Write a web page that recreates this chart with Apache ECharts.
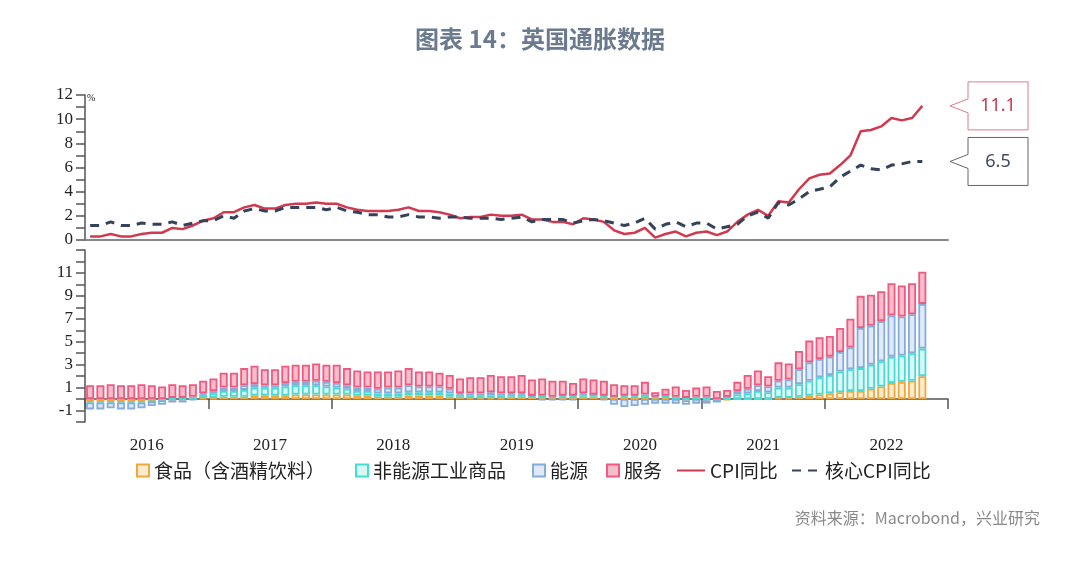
<!DOCTYPE html>
<html>
<head>
<meta charset="utf-8" />
<title>图表 14：英国通胀数据</title>
<script src="https://cdn.jsdelivr.net/npm/echarts@6/dist/echarts.min.js"></script>
<style>
  * { margin: 0; padding: 0; }
  html, body, #container { width: 100%; height: 100%; background: #fff; }
</style>
</head>
<body>
<div id="container"></div>
<script>
  // 2016-01 ~ 2022-10, 月度，%
  const years = ['2016', '2017', '2018', '2019', '2020', '2021', '2022'];
  const cpi = [
    0.3, 0.3, 0.5, 0.3, 0.3, 0.5, 0.6, 0.6, 1.0, 0.9, 1.2, 1.6,
    1.8, 2.3, 2.3, 2.7, 2.9, 2.6, 2.6, 2.9, 3.0, 3.0, 3.1, 3.0,
    3.0, 2.7, 2.5, 2.4, 2.4, 2.4, 2.5, 2.7, 2.4, 2.4, 2.3, 2.1,
    1.8, 1.9, 1.9, 2.1, 2.0, 2.0, 2.1, 1.7, 1.7, 1.5, 1.5, 1.3,
    1.8, 1.7, 1.5, 0.8, 0.5, 0.6, 1.0, 0.2, 0.5, 0.7, 0.3, 0.6,
    0.7, 0.4, 0.7, 1.5, 2.1, 2.5, 2.0, 3.2, 3.1, 4.2, 5.1, 5.4,
    5.5, 6.2, 7.0, 9.0, 9.1, 9.4, 10.1, 9.9, 10.1, 11.1
  ];
  const coreCpi = [
    1.2, 1.2, 1.5, 1.2, 1.2, 1.4, 1.3, 1.3, 1.5, 1.2, 1.4, 1.6,
    1.6, 2.0, 1.8, 2.4, 2.6, 2.4, 2.4, 2.7, 2.7, 2.7, 2.7, 2.5,
    2.7, 2.4, 2.3, 2.1, 2.1, 1.9, 1.9, 2.1, 1.9, 1.9, 1.8, 1.9,
    1.9, 1.8, 1.8, 1.8, 1.7, 1.8, 1.9, 1.5, 1.7, 1.7, 1.7, 1.4,
    1.6, 1.7, 1.6, 1.4, 1.2, 1.4, 1.8, 0.9, 1.3, 1.5, 1.1, 1.4,
    1.4, 0.9, 1.1, 1.3, 2.0, 2.3, 1.8, 3.1, 2.9, 3.4, 4.0, 4.2,
    4.4, 5.2, 5.7, 6.2, 5.9, 5.8, 6.2, 6.3, 6.5, 6.5
  ];
  // 拉动（百分点）
  const food = [
    -0.2, -0.2, -0.2, -0.2, -0.2, -0.2, -0.2, -0.1, -0.1, -0.1, 0.0, 0.1,
    0.1, 0.2, 0.2, 0.2, 0.3, 0.3, 0.3, 0.3, 0.4, 0.4, 0.4, 0.4,
    0.4, 0.4, 0.3, 0.3, 0.2, 0.2, 0.2, 0.3, 0.3, 0.3, 0.3, 0.2,
    0.2, 0.1, 0.1, 0.1, 0.1, 0.2, 0.2, 0.2, 0.1, 0.1, 0.2, 0.2,
    0.2, 0.2, 0.2, 0.2, 0.2, 0.2, 0.1, 0.1, 0.1, 0.0, -0.1, 0.0,
    -0.1, -0.1, -0.1, 0.0, 0.0, 0.0, 0.0, 0.1, 0.1, 0.2, 0.3, 0.4,
    0.5, 0.6, 0.7, 0.7, 0.9, 1.1, 1.4, 1.5, 1.6, 2.0
  ];
  const neig = [
    -0.1, -0.1, -0.1, -0.1, -0.1, -0.1, 0.0, 0.0, 0.1, 0.1, 0.2, 0.3,
    0.4, 0.5, 0.5, 0.6, 0.7, 0.7, 0.7, 0.8, 0.8, 0.8, 0.8, 0.7,
    0.6, 0.5, 0.4, 0.4, 0.3, 0.3, 0.3, 0.3, 0.3, 0.3, 0.3, 0.3,
    0.2, 0.2, 0.2, 0.2, 0.2, 0.2, 0.2, 0.1, 0.2, 0.1, 0.1, 0.1,
    0.2, 0.2, 0.1, 0.0, 0.1, 0.1, 0.3, 0.1, 0.2, 0.2, 0.1, 0.2,
    0.2, 0.0, 0.2, 0.4, 0.5, 0.7, 0.6, 0.9, 0.9, 1.1, 1.3, 1.5,
    1.6, 1.8, 1.9, 2.0, 2.1, 2.2, 2.3, 2.3, 2.4, 2.4
  ];
  const energy = [
    -0.6, -0.6, -0.5, -0.6, -0.6, -0.5, -0.4, -0.4, -0.2, -0.2, -0.1, 0.1,
    0.2, 0.3, 0.3, 0.4, 0.3, 0.2, 0.2, 0.3, 0.3, 0.3, 0.4, 0.4,
    0.4, 0.3, 0.3, 0.3, 0.4, 0.5, 0.5, 0.6, 0.5, 0.5, 0.5, 0.4,
    0.1, 0.2, 0.2, 0.3, 0.2, 0.1, 0.1, 0.0, -0.1, -0.1, -0.1, -0.1,
    0.1, 0.0, -0.1, -0.5, -0.7, -0.6, -0.5, -0.4, -0.4, -0.4, -0.4, -0.4,
    -0.3, -0.2, 0.0, 0.3, 0.4, 0.5, 0.5, 0.6, 0.7, 1.3, 1.6, 1.6,
    1.6, 1.7, 1.9, 3.5, 3.4, 3.5, 3.6, 3.4, 3.4, 3.9
  ];
  const services = [
    1.2, 1.2, 1.3, 1.2, 1.2, 1.3, 1.2, 1.1, 1.2, 1.1, 1.1, 1.1,
    1.1, 1.3, 1.3, 1.5, 1.6, 1.4, 1.4, 1.5, 1.5, 1.5, 1.5, 1.5,
    1.6, 1.5, 1.5, 1.4, 1.5, 1.4, 1.5, 1.5, 1.3, 1.3, 1.2, 1.2,
    1.3, 1.4, 1.4, 1.5, 1.5, 1.5, 1.6, 1.4, 1.5, 1.4, 1.3, 1.1,
    1.3, 1.3, 1.3, 1.1, 0.9, 0.9, 1.1, 0.4, 0.6, 0.9, 0.7, 0.8,
    0.9, 0.7, 0.6, 0.8, 1.2, 1.3, 0.9, 1.6, 1.4, 1.6, 1.9, 1.9,
    1.8, 2.1, 2.5, 2.8, 2.7, 2.6, 2.8, 2.7, 2.7, 2.8
  ];

  const months = [];
  years.forEach((y) => {
    for (let m = 1; m <= 12; m++) months.push(y + '-' + (m < 10 ? '0' + m : m));
  });

  const serif = 'Liberation Serif';
  const cjk = 'Noto Sans CJK SC';
  const axisColor = '#555';

  const chart = echarts.init(document.getElementById('container'));

  const bar = (name, data, border, fill) => ({
    name: name,
    type: 'bar',
    xAxisIndex: 1,
    yAxisIndex: 1,
    stack: 'contrib',
    barCategoryGap: '22%',
    data: data,
    itemStyle: { color: fill, borderColor: border, borderWidth: 1.8 },
  });

  // 图例逐项摆放，跟原图位置对齐
  const legendItem = (name, left, isLine) => {
    const item = {
      data: [name],
      left: left,
      top: 456,
      itemWidth: isLine ? 28 : 12,
      itemHeight: 12,
      itemGap: 5,
      textStyle: { fontFamily: cjk, fontSize: 19, color: '#222' },
    };
    if (isLine) item.itemStyle = { opacity: 0 };
    else item.icon = 'rect';
    return item;
  };

  const yAxisBase = {
    type: 'value',
    interval: 1,
    splitLine: { show: false },
    axisLine: { show: true, lineStyle: { color: axisColor, width: 1.5 } },
    axisTick: { show: true, length: 9, lineStyle: { color: axisColor, width: 1.5 } },
    axisLabel: { fontFamily: serif, fontSize: 17, color: '#222', margin: 12 },
  };

  chart.setOption({
    animation: false,
    title: [
      {
        text: '图表 14：英国通胀数据',
        left: 'center',
        top: 22,
        textStyle: { fontFamily: cjk, fontSize: 24, fontWeight: 'bold', color: '#6b7a8f' },
      },
      {
        text: '资料来源：Macrobond，兴业研究',
        right: 35,
        top: 505,
        textStyle: { fontFamily: cjk, fontSize: 16, fontWeight: 'normal', color: '#8a8a8a' },
      },
    ],
    legend: [
      legendItem('食品（含酒精饮料）', 131, false),
      legendItem('非能源工业商品', 350, false),
      legendItem('能源', 527, false),
      legendItem('服务', 601, false),
      legendItem('CPI同比', 671, true),
      legendItem('核心CPI同比', 786, true),
    ],
    grid: [
      { left: 85, right: 132, top: 95, height: 145 },
      { left: 85, right: 132, top: 250, height: 172 },
    ],
    xAxis: [
      {
        type: 'category',
        gridIndex: 0,
        data: months,
        boundaryGap: true,
        axisLine: { show: true, lineStyle: { color: '#888', width: 2 } },
        axisTick: { show: false },
        axisLabel: { show: false },
      },
      {
        type: 'category',
        gridIndex: 1,
        data: months,
        boundaryGap: true,
        axisLine: { show: true, lineStyle: { color: axisColor, width: 1.5 } },
        axisTick: { show: true, interval: 11, length: 10, lineStyle: { color: axisColor, width: 1.5 } },
        axisLabel: {
          interval: (i) => i % 12 === 6,
          formatter: (v) => v.slice(0, 4),
          fontFamily: serif,
          fontSize: 17,
          color: '#222',
          margin: 15,
          padding: [0, 10, 0, 0],
        },
      },
    ],
    yAxis: [
      Object.assign({}, yAxisBase, {
        gridIndex: 0,
        min: 0,
        max: 12,
        name: '%',
        nameGap: -8,
        nameTextStyle: { fontFamily: serif, fontSize: 10, color: '#222', align: 'left', padding: [0, 0, 0, 2] },
        axisLabel: Object.assign({}, yAxisBase.axisLabel, {
          formatter: (v) => (v % 2 === 0 ? v : ''),
        }),
      }),
      Object.assign({}, yAxisBase, {
        gridIndex: 1,
        min: -2,
        max: 13,
        axisLabel: Object.assign({}, yAxisBase.axisLabel, {
          formatter: (v) => (Math.abs(v % 2) === 1 && v <= 11 ? v : ''),
        }),
      }),
    ],
    series: [
      bar('食品（含酒精饮料）', food, '#f0a83c', '#fcebcc'),
      bar('非能源工业商品', neig, '#45dcd3', '#d8f8f6'),
      bar('能源', energy, '#86acdc', '#dfe9f7'),
      bar('服务', services, '#ee5a80', '#f8bccb'),
      {
        name: 'CPI同比',
        type: 'line',
        xAxisIndex: 0,
        yAxisIndex: 0,
        data: cpi,
        symbol: 'none',
        lineStyle: { color: '#d1394f', width: 2.5 },
        itemStyle: { color: '#d1394f' },
      },
      {
        name: '核心CPI同比',
        type: 'line',
        xAxisIndex: 0,
        yAxisIndex: 0,
        data: coreCpi,
        symbol: 'none',
        lineStyle: { color: '#36425a', width: 3, type: [9, 7] },
        itemStyle: { color: '#36425a' },
      },
    ],
  });

  // 右侧最新值标注
  const tag = (value, border, textColor) => {
    const y = chart.convertToPixel({ xAxisIndex: 0, yAxisIndex: 0 }, [cpi.length - 1, value])[1];
    const tipX = 950, boxL = 968, boxR = 1028;
    return {
      type: 'group',
      children: [
        {
          type: 'polygon',
          shape: { points: [[tipX, y], [boxL, y - 7], [boxL, y - 24], [boxR, y - 24], [boxR, y + 24], [boxL, y + 24], [boxL, y + 7]] },
          style: { fill: '#fff', stroke: border, lineWidth: 1 },
        },
        {
          type: 'text',
          x: (boxL + boxR) / 2,
          y: y,
          style: { text: String(value), fontFamily: 'Noto Sans', fontSize: 18, fill: textColor, align: 'center', verticalAlign: 'middle' },
        },
      ],
    };
  };
  chart.setOption({
    graphic: [
      tag(cpi[cpi.length - 1], '#e07a88', '#c43a4c'),
      tag(coreCpi[coreCpi.length - 1], '#666', '#3e4a5c'),
    ],
  });
</script>
</body>
</html>
